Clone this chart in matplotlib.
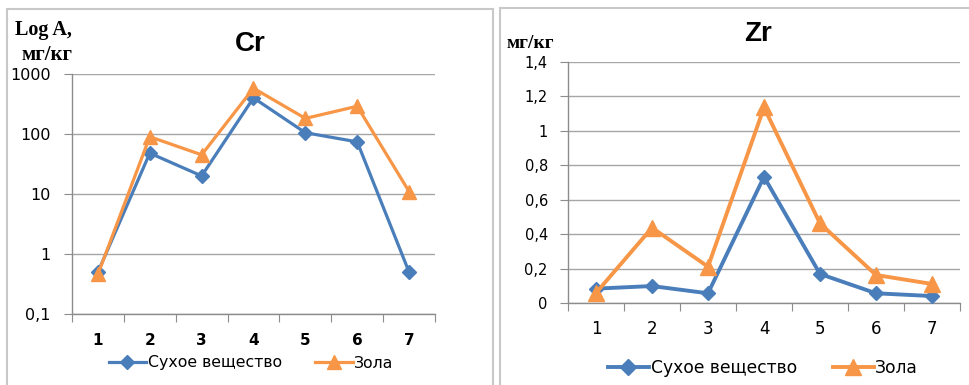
import matplotlib
matplotlib.use("Agg")
import matplotlib.pyplot as plt
from matplotlib.lines import Line2D
from matplotlib.patches import Rectangle

categories = ["1", "2", "3", "4", "5", "6", "7"]
cr_dry = [0.5, 48, 20, 400, 105, 74, 0.5]
cr_ash = [0.46, 90, 45, 580, 182, 290, 11]
zr_dry = [0.085, 0.10, 0.058, 0.733, 0.17, 0.058, 0.042]
zr_ash = [0.06, 0.438, 0.212, 1.135, 0.463, 0.164, 0.112]
series_names = ["Сухое вещество", "Зола"]
cr_yticks = [0.1, 1, 10, 100, 1000]
cr_yticklabels = ["0,1", "1", "10", "100", "1000"]
zr_yticks = [0, 0.2, 0.4, 0.6, 0.8, 1.0, 1.2, 1.4]
zr_yticklabels = ["0", "0,2", "0,4", "0,6", "0,8", "1", "1,2", "1,4"]

BLUE = "#4a7ebb"
ORANGE = "#f79646"
GRID = "#a6a6a6"
SPINE = "#8c8c8c"

W, H = 969, 385
fig = plt.figure(figsize=(W / 100, H / 100), dpi=100)

def fx(px):
    return px / W

def fy(py):
    return 1 - py / H

# panel borders
fig.patches.append(Rectangle((fx(7), fy(400)), fx(493 - 7), fy(9) - fy(400),
                             transform=fig.transFigure, fill=False,
                             edgecolor="#c8c8c8", linewidth=1.5))
fig.patches.append(Rectangle((fx(500), fy(400)), fx(1000 - 500), fy(8) - fy(400),
                             transform=fig.transFigure, fill=False,
                             edgecolor="#c8c8c8", linewidth=1.5))

def style_axes(ax, n, ypad, xpad):
    ax.set_xlim(-0.5, n - 0.5)
    for s in ["top", "right"]:
        ax.spines[s].set_visible(False)
    for s in ["left", "bottom"]:
        ax.spines[s].set_color(SPINE)
        ax.spines[s].set_linewidth(1.0)
    ax.set_xticks([i - 0.5 for i in range(n + 1)], minor=False)
    ax.set_xticklabels([])
    ax.set_xticks(list(range(n)), minor=True)
    ax.tick_params(axis="x", which="major", length=6, color=SPINE, direction="out")
    ax.tick_params(axis="x", which="minor", length=0, pad=xpad)
    ax.tick_params(axis="y", which="major", length=6, color=SPINE,
                   direction="out", pad=ypad)
    ax.tick_params(axis="y", which="minor", length=0, left=False)
    ax.yaxis.grid(True, color=GRID, linewidth=1.0)
    ax.set_axisbelow(True)

x = list(range(len(categories)))

# ---------------- Left: Cr ----------------
ax1 = fig.add_axes([fx(72), fy(314), fx(435 - 72), fy(74) - fy(314)])
ax1.set_yscale("log")
ax1.set_ylim(0.1, 1000)
style_axes(ax1, len(categories), ypad=9.5, xpad=14)
ax1.set_xticklabels(categories, minor=True, fontsize=11, fontweight="bold")
ax1.set_yticks(cr_yticks)
ax1.set_yticklabels(cr_yticklabels, fontsize=11.5)
ax1.yaxis.set_minor_locator(matplotlib.ticker.NullLocator())
ax1.plot(x, cr_dry, color=BLUE, linewidth=2.3, marker="D", markersize=7,
         zorder=3)
ax1.plot(x, cr_ash, color=ORANGE, linewidth=2.3, marker="^", markersize=10,
         zorder=4)
fig.text(fx(250), fy(44), "Cr", fontsize=20, fontweight="bold",
         ha="center", va="center", family="Liberation Sans")
fig.text(fx(15), fy(30), "Log A,", fontsize=14.5, fontweight="bold",
         ha="left", va="center", family="Liberation Serif")
fig.text(fx(21), fy(55), "мг/кг", fontsize=15, fontweight="bold",
         ha="left", va="center", family="Liberation Serif")

h1 = [Line2D([], [], color=BLUE, linewidth=2.3, marker="D", markersize=7),
      Line2D([], [], color=ORANGE, linewidth=2.3, marker="^", markersize=10)]
fig.legend(h1, series_names, loc="center", bbox_to_anchor=(fx(251), fy(363)),
           ncol=2, frameon=False, fontsize=11.3, handlelength=2.4,
           handletextpad=0.1, columnspacing=2.1, borderpad=0)

# ---------------- Right: Zr ----------------
ax2 = fig.add_axes([fx(568), fy(303.3), fx(960 - 568), fy(61.7) - fy(303.3)])
ax2.set_ylim(0, 1.4)
style_axes(ax2, len(categories), ypad=8.5, xpad=12)
ax2.set_xticklabels(categories, minor=True, fontsize=12)
ax2.set_yticks(zr_yticks)
ax2.set_yticklabels(zr_yticklabels, fontsize=10.5)
ax2.plot(x, zr_dry, color=BLUE, linewidth=2.8, marker="D", markersize=7,
         zorder=3)
ax2.plot(x, zr_ash, color=ORANGE, linewidth=2.8, marker="^", markersize=11,
         zorder=4)
fig.text(fx(758), fy(34), "Zr", fontsize=20, fontweight="bold",
         ha="center", va="center", family="Liberation Sans")
fig.text(fx(507), fy(43), "мг/кг", fontsize=14, fontweight="bold",
         ha="left", va="center", family="Liberation Serif")

h2 = [Line2D([], [], color=BLUE, linewidth=2.8, marker="D", markersize=8),
      Line2D([], [], color=ORANGE, linewidth=2.8, marker="^", markersize=11)]
fig.legend(h2, series_names, loc="center", bbox_to_anchor=(fx(763), fy(368)),
           ncol=2, frameon=False, fontsize=12.3, handlelength=2.4,
           handletextpad=0.1, columnspacing=2.1, borderpad=0)

fig.savefig("out.png", dpi=100)
